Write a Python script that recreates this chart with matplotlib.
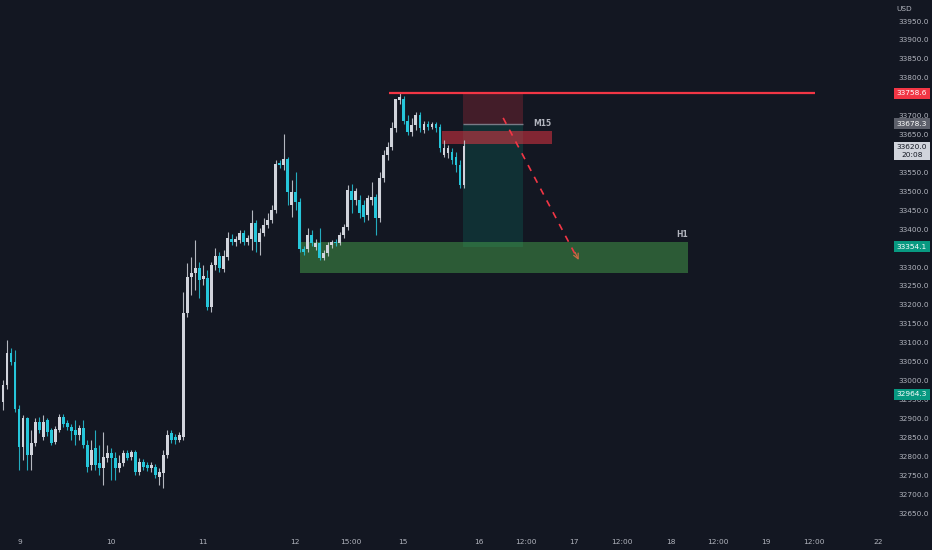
import numpy as np
import matplotlib.pyplot as plt
import matplotlib.transforms as mtransforms
from matplotlib.patches import Rectangle

# hourly candles (US30)
opens = [32943, 32988, 33072, 33049, 32926, 32824, 32900, 32803, 32834, 32890,
         32851, 32895, 32869, 32838, 32869, 32905, 32887, 32877, 32869, 32856,
         32874, 32829, 32776, 32821, 32781, 32768, 32795, 32808, 32795, 32768,
         32781, 32808, 32798, 32811, 32758, 32785, 32776, 32768, 32771, 32745,
         32755, 32803, 32861, 32851, 32843, 32851, 33178, 33274, 33284, 33297,
         33268, 33270, 33194, 33305, 33328, 33295, 33326, 33374, 33366, 33371,
         33389, 33366, 33374, 33416, 33366, 33389, 33410, 33424, 33450, 33574,
         33569, 33585, 33463, 33498, 33472, 33348, 33348, 33384, 33353, 33363,
         33323, 33337, 33358, 33366, 33363, 33384, 33406, 33500, 33477, 33477,
         33463, 33437, 33477, 33485, 33429, 33535, 33596, 33617, 33666, 33740,
         33745, 33687, 33656, 33674, 33701, 33661, 33677, 33671, 33677, 33669,
         33596, 33601, 33604, 33591, 33569, 33517]
highs = [33001, 33106, 33085, 33080, 32935, 32908, 32905, 32869, 32900, 32905,
         32908, 32900, 32874, 32879, 32913, 32911, 32895, 32885, 32895, 32882,
         32895, 32843, 32843, 32869, 32829, 32864, 32829, 32821, 32811, 32803,
         32816, 32816, 32816, 32816, 32795, 32793, 32785, 32785, 32779, 32768,
         32816, 32869, 32869, 32859, 32864, 33233, 33310, 33326, 33371, 33313,
         33305, 33292, 33313, 33350, 33340, 33345, 33392, 33387, 33381, 33397,
         33397, 33384, 33450, 33424, 33402, 33429, 33442, 33463, 33582, 33582,
         33651, 33592, 33529, 33551, 33482, 33355, 33402, 33397, 33374, 33402,
         33345, 33366, 33371, 33374, 33392, 33414, 33516, 33519, 33508, 33490,
         33477, 33490, 33524, 33493, 33551, 33609, 33630, 33682, 33745, 33758.6,
         33751, 33701, 33693, 33709, 33709, 33687, 33687, 33684, 33684, 33677,
         33635, 33622, 33614, 33604, 33583, 33635]
lows = [32922, 32979, 33041, 32916, 32763, 32790, 32763, 32763, 32826, 32861,
        32843, 32853, 32829, 32832, 32864, 32877, 32869, 32843, 32829, 32843,
        32821, 32758, 32763, 32763, 32750, 32724, 32785, 32737, 32737, 32758,
        32774, 32790, 32790, 32750, 32750, 32763, 32760, 32758, 32742, 32724,
        32716, 32795, 32834, 32832, 32838, 32843, 33168, 33226, 33239, 33217,
        33252, 33186, 33181, 33292, 33287, 33287, 33318, 33358, 33355, 33363,
        33358, 33358, 33345, 33340, 33332, 33381, 33402, 33416, 33442, 33561,
        33556, 33463, 33432, 33450, 33340, 33332, 33340, 33355, 33345, 33318,
        33318, 33328, 33350, 33355, 33358, 33376, 33397, 33442, 33463, 33429,
        33419, 33424, 33463, 33384, 33419, 33525, 33583, 33609, 33656, 33730,
        33677, 33648, 33645, 33661, 33656, 33653, 33661, 33664, 33656, 33604,
        33591, 33588, 33573, 33552, 33510, 33510]
closes = [32988, 33072, 33049, 32926, 32824, 32900, 32803, 32834, 32890, 32869,
          32890, 32864, 32834, 32872, 32905, 32885, 32877, 32866, 32856, 32874,
          32829, 32771, 32816, 32776, 32768, 32798, 32808, 32795, 32768, 32781,
          32808, 32795, 32811, 32758, 32785, 32771, 32768, 32776, 32750, 32758,
          32803, 32856, 32843, 32843, 32856, 33178, 33274, 33284, 33297, 33265,
          33275, 33194, 33305, 33328, 33297, 33328, 33376, 33366, 33374, 33389,
          33366, 33376, 33416, 33366, 33389, 33410, 33424, 33450, 33572, 33569,
          33585, 33498, 33498, 33472, 33348, 33340, 33384, 33363, 33363, 33323,
          33337, 33358, 33366, 33363, 33384, 33406, 33503, 33477, 33500, 33442,
          33432, 33482, 33485, 33429, 33535, 33596, 33617, 33666, 33745, 33748,
          33687, 33656, 33674, 33701, 33666, 33677, 33669, 33677, 33666, 33614,
          33614, 33614, 33583, 33569, 33517, 33620.0]

time_ticks = [4.25, 27, 49.75, 72.75, 86.75, 99.75, 118.75, 130.5, 142.5,
              154.5, 166.5, 178.25, 190.25, 202.25, 218.25]
time_labels = ['9', '10', '11', '12', '15:00', '15', '16', '12:00', '17',
               '12:00', '18', '12:00', '19', '12:00', '22']
# 33750 / 33600 / 33350 are hidden behind the price tags
price_ticks = [33950, 33900, 33850, 33800, 33700, 33650, 33550, 33500, 33450,
               33400, 33300, 33250, 33200, 33150, 33100, 33050, 33000, 32950,
               32900, 32850, 32800, 32750, 32700, 32650]

resistance = 33758.6
entry = 33678.3
target = 33354.1
last_price = 33620.0
m15_zone = (33625, 33659)
h1_zone = (33284, 33366)
low_tag = 32964.3

BG = '#131722'
TXT = '#b2b5be'
UP = '#d1d4dc'
DOWN = '#26c6da'
RED = '#f23645'
GREEN = '#089981'

fig = plt.figure(figsize=(9.32, 5.5), dpi=100, facecolor=BG)
ax = fig.add_axes([0, 22 / 550, 887 / 932, 528 / 550])
ax.set_facecolor(BG)
for s in ax.spines.values():
    s.set_visible(False)

# candles
x = np.arange(len(opens))
o = np.array(opens, float)
h = np.array(highs, float)
l = np.array(lows, float)
c = np.array(closes, float)
col = np.where(c >= o, UP, DOWN)
body_lo = np.minimum(o, c)
body_h = np.maximum(np.abs(c - o), 2.6)
ax.vlines(x, l, h, colors=col, lw=0.8, alpha=0.85, zorder=3)
ax.bar(x, body_h, bottom=body_lo, width=0.72, color=col, linewidth=0, zorder=4)

# H1 demand zone
ax.add_patch(Rectangle((74, h1_zone[0]), 96.75, h1_zone[1] - h1_zone[0],
                       facecolor='#4caf50', alpha=0.45, edgecolor='none', zorder=2))
ax.text(169.3, 33387, 'H1', color=TXT, fontsize=5.5, fontweight='bold',
        ha='center', va='center', zorder=6)

# short position tool
ax.add_patch(Rectangle((114.75, entry), 15, resistance - entry,
                       facecolor=RED, alpha=0.22, edgecolor='none', zorder=1))
ax.add_patch(Rectangle((114.75, target), 15, entry - target,
                       facecolor=GREEN, alpha=0.2, edgecolor='none', zorder=1))
ax.hlines(entry, 114.75, 129.75, color='#787b86', lw=1, zorder=2)

# M15 supply zone
ax.add_patch(Rectangle((109.5, m15_zone[0]), 27.5, m15_zone[1] - m15_zone[0],
                       facecolor=RED, alpha=0.5, edgecolor='none', zorder=2))
ax.text(134.5, 33679, 'M15', color=TXT, fontsize=5.5, fontweight='bold',
        ha='center', va='center', zorder=6)

# resistance line
ax.hlines(resistance, 96.25, 202.5, color=RED, lw=1.6, zorder=5)

# projected path
ax.plot([124.75, 143.3], [33694, 33322], color=RED, lw=1.2,
        ls=(0, (4, 4)), zorder=5)
ax.annotate('', xy=(143.9, 33312), xytext=(142.4, 33345),
            arrowprops=dict(arrowstyle='->', color='#c86a44', lw=0.9,
                            mutation_scale=9), zorder=5)

ax.set_xlim(-0.75, 220.5)
ax.set_ylim(32610.5, 34005.5)

ax.set_xticks(time_ticks)
ax.set_xticklabels(time_labels)
ax.tick_params(axis='x', length=0, pad=8, labelsize=5.3, colors=TXT)

ax.yaxis.tick_right()
ax.set_yticks(price_ticks)
ax.set_yticklabels([f'{v:.1f}' for v in price_ticks])
ax.tick_params(axis='y', length=0, pad=8, labelsize=5.3, colors=TXT)
for lab in ax.get_xticklabels() + ax.get_yticklabels():
    lab.set_fontfamily('DejaVu Sans')

# price tags on the right scale
tag_tf = mtransforms.blended_transform_factory(fig.transFigure, ax.transData)


def price_tag(val, text, bg, fg):
    ax.text(912 / 932, val, text, transform=tag_tf, ha='center', va='center',
            fontsize=5.3, color=fg, clip_on=False, zorder=10,
            bbox=dict(boxstyle='square,pad=0.35', fc=bg, ec='none'))


price_tag(resistance, f'{resistance:.1f}', RED, 'white')
price_tag(entry, f'{entry:.1f}', '#5d606b', 'white')
ax.text(912 / 932, last_price + 4, f'{last_price:.1f}\n20:08', transform=tag_tf,
        ha='center', va='top', fontsize=5.3, color=BG, clip_on=False,
        zorder=10, linespacing=1.3,
        bbox=dict(boxstyle='square,pad=0.35', fc='#d1d4dc', ec='none'))
price_tag(target, f'{target:.1f}', GREEN, 'white')
price_tag(low_tag, f'{low_tag:.1f}', GREEN, 'white')

fig.text(896 / 932, 1 - 9 / 550, 'USD', color=TXT, fontsize=5.3,
         ha='left', va='center')

fig.savefig('out.png', dpi=100, facecolor=BG)
